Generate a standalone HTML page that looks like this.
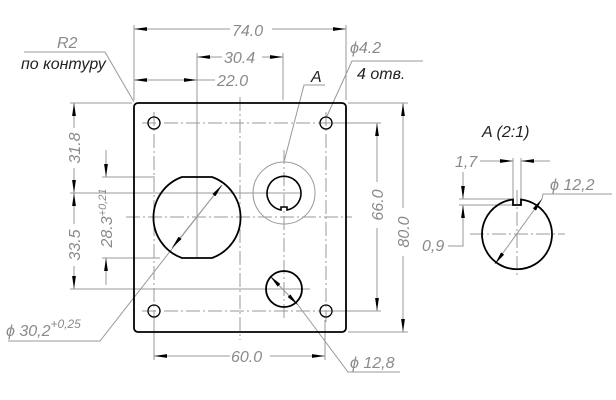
<!DOCTYPE html>
<html><head><meta charset="utf-8"><style>
html,body{margin:0;padding:0;background:#fff}
svg{display:block}
text{font-family:"Liberation Sans","DejaVu Sans",sans-serif;font-style:italic;fill:#8a8a8a;font-size:16px}
.k{fill:#222}
</style></head><body>
<svg width="616" height="400" viewBox="0 0 616 400" xmlns="http://www.w3.org/2000/svg">
<defs>
<marker id="a" viewBox="0 0 13 5" refX="13" refY="2.5" markerWidth="13" markerHeight="5" markerUnits="userSpaceOnUse" orient="auto-start-reverse"><path d="M0,0.6 L13,2.5 L0,4.4z" fill="#000"/></marker>
</defs>
<g stroke="#999" stroke-width="1" fill="none">
<g stroke-dasharray="14,3,2,3">
<line x1="142" y1="123" x2="338" y2="123"/>
<line x1="142" y1="311" x2="338" y2="311"/>
<line x1="154" y1="112" x2="154" y2="322"/>
<line x1="326" y1="112" x2="326" y2="322"/>
<line x1="240" y1="97" x2="240" y2="340"/>
<line x1="284" y1="150" x2="284" y2="318"/>
<line x1="126" y1="217" x2="352" y2="217"/>
<line x1="470" y1="234" x2="565" y2="234"/>
<line x1="517" y1="190" x2="517" y2="278"/>
</g>
<line x1="134" y1="25" x2="134" y2="100"/>
<line x1="346" y1="25" x2="346" y2="100"/>
<line x1="197" y1="53" x2="197" y2="258"/>
<line x1="283" y1="53" x2="283" y2="100"/>
<line x1="154" y1="320" x2="154" y2="360"/>
<line x1="325" y1="320" x2="325" y2="360"/>
<line x1="70" y1="103" x2="132" y2="103"/>
<line x1="70" y1="193" x2="300" y2="193"/>
<line x1="70" y1="289" x2="310" y2="289"/>
<line x1="102" y1="177" x2="155" y2="177"/>
<line x1="102" y1="258" x2="160" y2="258"/>
<line x1="348" y1="103" x2="408" y2="103"/>
<line x1="348" y1="332" x2="408" y2="332"/>
<line x1="332" y1="123" x2="381" y2="123"/>
<line x1="332" y1="311" x2="381" y2="311"/>
<line x1="134" y1="29" x2="230" y2="29" marker-start="url(#a)"/>
<line x1="272" y1="29" x2="346" y2="29" marker-end="url(#a)"/>
<line x1="197" y1="57" x2="222" y2="57" marker-start="url(#a)"/>
<line x1="262" y1="57" x2="283" y2="57" marker-end="url(#a)"/>
<line x1="134" y1="80" x2="197" y2="80" marker-start="url(#a)" marker-end="url(#a)"/>
<line x1="197" y1="80" x2="215" y2="80"/>
<line x1="154" y1="356" x2="230" y2="356" marker-start="url(#a)"/>
<line x1="270" y1="356" x2="325" y2="356" marker-end="url(#a)"/>
<line x1="74" y1="103" x2="74" y2="128" marker-start="url(#a)"/>
<line x1="74" y1="168" x2="74" y2="193" marker-end="url(#a)"/>
<line x1="74" y1="193" x2="74" y2="224" marker-start="url(#a)"/>
<line x1="74" y1="266" x2="74" y2="289" marker-end="url(#a)"/>
<line x1="106" y1="150" x2="106" y2="177" marker-end="url(#a)"/>
<line x1="106" y1="285" x2="106" y2="258" marker-end="url(#a)"/>
<line x1="377" y1="123" x2="377" y2="182" marker-start="url(#a)"/>
<line x1="377" y1="228" x2="377" y2="311" marker-end="url(#a)"/>
<line x1="403" y1="103" x2="403" y2="208" marker-start="url(#a)"/>
<line x1="403" y1="256" x2="403" y2="332" marker-end="url(#a)"/>
<polyline points="24,52 105,52 134,102"/>
<polyline points="423,61 352,61 327,116"/>
<polyline points="325,85 304,85 284,162"/>
<polyline points="8,341 100,341 222,185"/>
<line x1="222" y1="185" x2="172" y2="248" marker-start="url(#a)" marker-end="url(#a)"/>
<polyline points="400,372 348,372 298,305"/>
<line x1="298" y1="305" x2="270" y2="276" marker-start="url(#a)" marker-end="url(#a)"/>
<circle cx="284" cy="193" r="31"/>
<line x1="513" y1="158" x2="513" y2="200"/>
<line x1="521" y1="158" x2="521" y2="200"/>
<line x1="480" y1="161" x2="513" y2="161" marker-end="url(#a)"/>
<line x1="550" y1="161" x2="521" y2="161" marker-end="url(#a)"/>
<line x1="459" y1="199" x2="512" y2="199"/>
<line x1="459" y1="205" x2="512" y2="205"/>
<line x1="463" y1="172" x2="463" y2="199" marker-end="url(#a)"/>
<polyline points="448,246 463,246 463,205" marker-end="url(#a)"/>
<polyline points="612,194 543,194 542,199"/>
<line x1="542" y1="199" x2="495" y2="264" marker-start="url(#a)" marker-end="url(#a)"/>
</g>
<g stroke="#000" stroke-width="1.8" fill="none">
<rect x="134" y="103" width="212" height="229" rx="4"/>
<circle cx="154" cy="123" r="6" stroke-width="1.3"/>
<circle cx="326" cy="123" r="6" stroke-width="1.3"/>
<circle cx="154" cy="311" r="6" stroke-width="1.3"/>
<circle cx="326" cy="311" r="6" stroke-width="1.3"/>
<path d="M182,177 L212,177 A43,43 0 0 1 212,258 L182,258 A43,43 0 0 1 182,177Z"/>
<path d="M281,210 A17,17 0 1 1 287,210 L287,207 L281,207Z" stroke-width="1.6"/>
<circle cx="284" cy="289" r="18"/>
<path d="M513,199.5 A35,35 0 1 0 521,199.5 L521,205 L513,205Z"/>
</g>
<text x="232" y="36" font-size="18">74.0</text>
<text x="224" y="63" font-size="17">30.4</text>
<text x="217" y="86" font-size="18">22.0</text>
<text x="57" y="48" font-size="17">R2</text>
<text x="21" y="69" class="k" font-size="15">по контуру</text>
<text x="350" y="53" font-size="16">ϕ4.2</text>
<text x="357" y="79" class="k" font-size="16">4 отв.</text>
<text x="311" y="82" class="k" font-size="17">A</text>
<text x="6" y="336" font-size="19">ϕ 30,2<tspan font-size="12" dy="-8">+0,25</tspan></text>
<text x="350" y="368" font-size="18">ϕ 12,8</text>
<text x="231" y="362" font-size="19">60.0</text>
<text x="482" y="137" class="k" font-size="16">A (2:1)</text>
<text x="455" y="167" font-size="16">1,7</text>
<text x="550" y="190" font-size="17">ϕ 12,2</text>
<text x="422" y="251" font-size="16">0,9</text>
<text transform="translate(80,148) rotate(-90)" text-anchor="middle" font-size="18">31.8</text>
<text transform="translate(80,245) rotate(-90)" text-anchor="middle" font-size="18">33.5</text>
<text transform="translate(112,218) rotate(-90)" text-anchor="middle" font-size="17">28.3<tspan font-size="11" dy="-6">+0,21</tspan></text>
<text transform="translate(383,205) rotate(-90)" text-anchor="middle" font-size="18">66.0</text>
<text transform="translate(409,232) rotate(-90)" text-anchor="middle" font-size="18">80.0</text>
</svg>
</body></html>
